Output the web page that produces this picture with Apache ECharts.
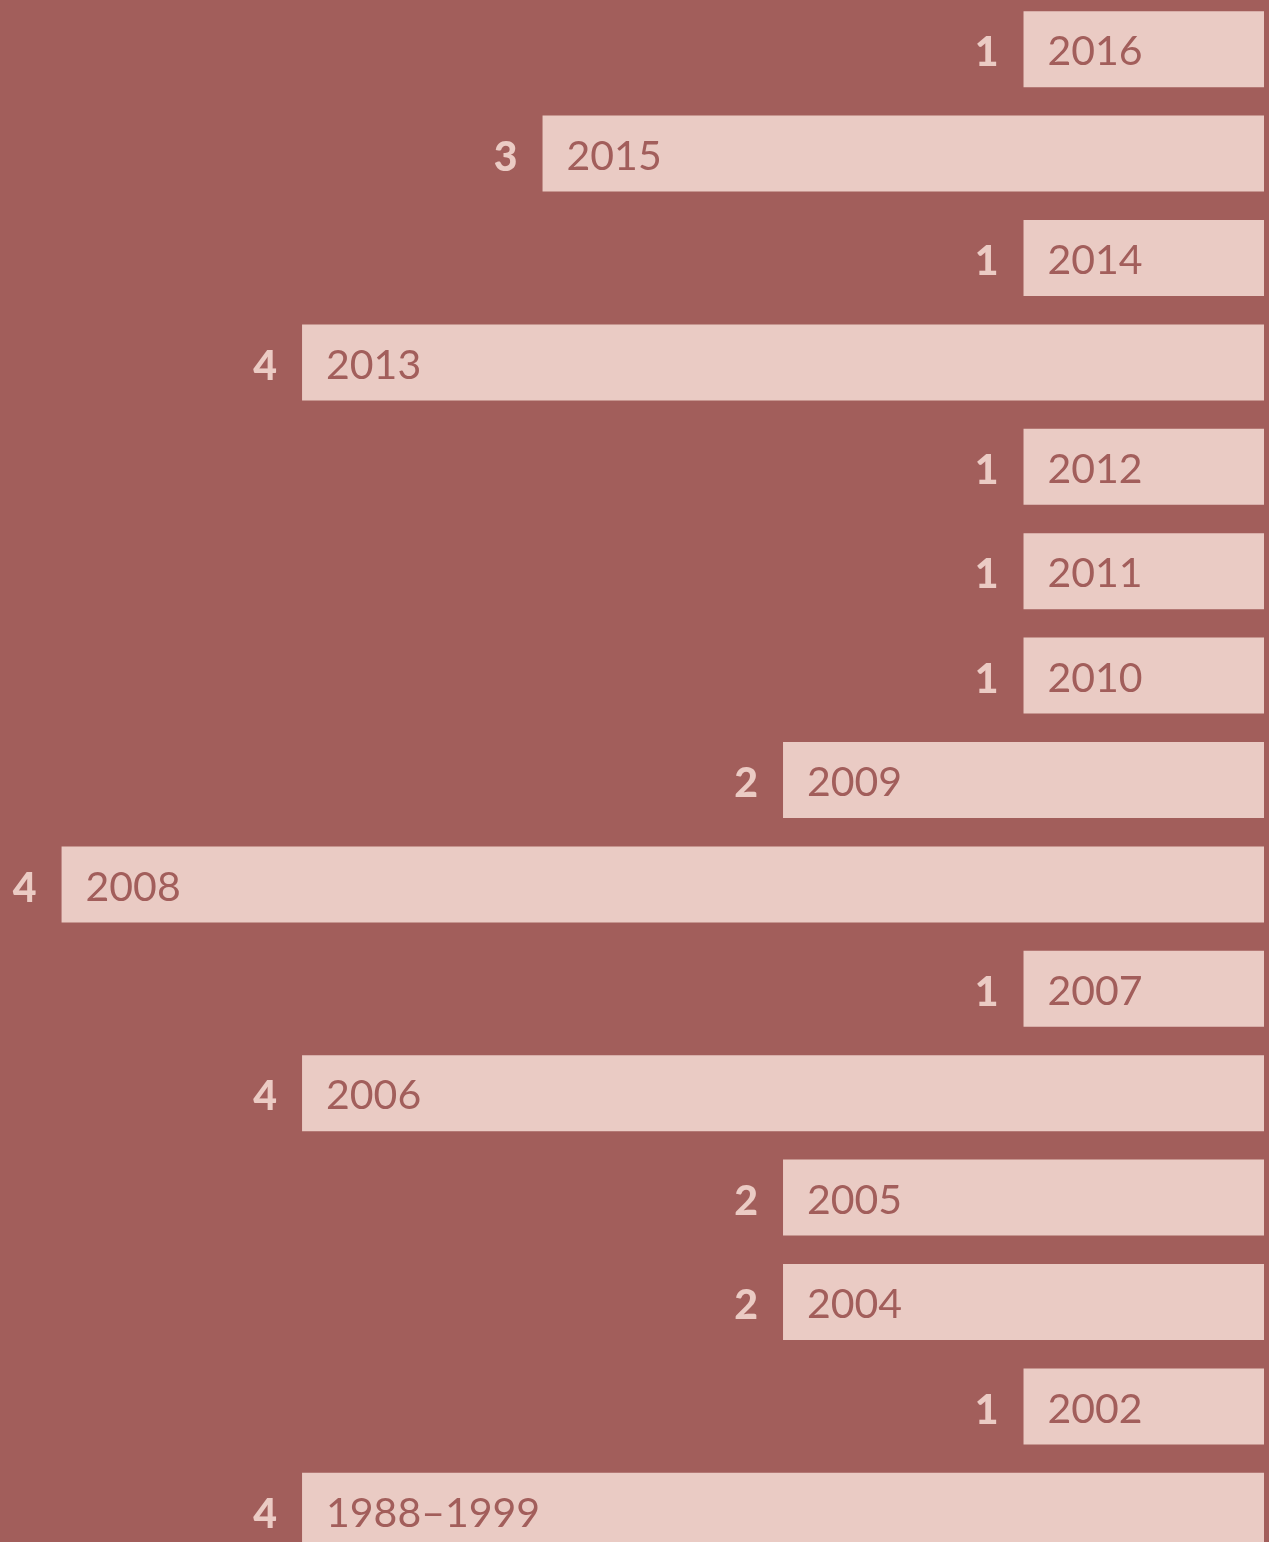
<!DOCTYPE html>
<html><head><meta charset="utf-8">
<script src="https://cdn.jsdelivr.net/npm/echarts@6/dist/echarts.min.js"></script>
<style>html,body{margin:0;padding:0;background:#a25e5b;overflow:hidden;width:1269px;height:1542px;}#c{position:absolute;left:0;top:-3px;width:1269px;height:1566px;}</style>
</head><body><div id="c"></div>
<script>
const categories = ["2016","2015","2014","2013","2012","2011","2010","2009","2008","2007","2006","2005","2004","2002","1988–1999"];
const values = [1,3,1,4,1,1,1,2,5,1,4,2,2,1,4];
const countLabels = ["1","3","1","4","1","1","1","2","4","1","4","2","2","1","4"];

const chart = echarts.init(document.getElementById('c'));
chart.setOption({
  backgroundColor: '#a25e5b',
  animation: false,
  grid: {left: 0, right: 5, top: 0, bottom: 0},
  xAxis: {type: 'value', inverse: true, min: 0, max: 5.256, show: false},
  yAxis: {type: 'category', data: categories, inverse: true, show: false},
  series: [
    {
      type: 'bar', data: values, barWidth: 76,
      itemStyle: {color: '#eacbc4'},
      label: {show: true, position: 'insideLeft', distance: 24, offset: [0, 3],
        formatter: p => categories[p.dataIndex],
        fontFamily: 'Lato', fontWeight: 'normal', fontSize: 41, color: '#a25e5b'}
    },
    {
      type: 'bar', data: values, barWidth: 76, barGap: '-100%',
      itemStyle: {color: 'rgba(0,0,0,0)'},
      silent: true,
      label: {show: true, position: 'left', distance: 25, offset: [0, 4],
        formatter: p => countLabels[p.dataIndex],
        fontFamily: 'Lato', fontWeight: 900, fontSize: 41, color: '#ebcbc4'}
    }
  ]
});
</script></body></html>
